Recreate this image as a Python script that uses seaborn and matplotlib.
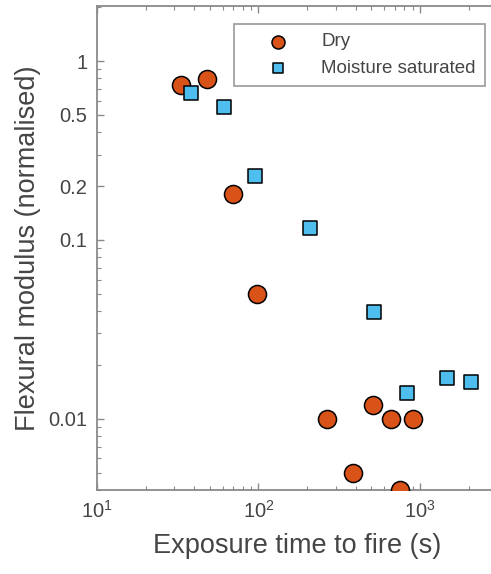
import matplotlib
matplotlib.use("Agg")
import matplotlib.pyplot as plt
import seaborn as sns
import pandas as pd
import numpy as np
from matplotlib.ticker import LogLocator, FixedLocator, FixedFormatter, NullFormatter

dry_time = [33, 48, 70, 98, 264, 386, 514, 661, 909, 751]
dry_mod = [0.73, 0.79, 0.18, 0.050, 0.010, 0.005, 0.012, 0.010, 0.010, 0.004]
wet_time = [38, 61, 95, 208, 519, 828, 1462, 2061]
wet_mod = [0.66, 0.556, 0.228, 0.117, 0.0396, 0.014, 0.017, 0.016]

series_names = ["Dry", "Moisture saturated"]
ytick_vals = [0.01, 0.1, 0.2, 0.5, 1]
ytick_labels = ["0.01", "0.1", "0.2", "0.5", "1"]

sns.set_theme(style="white")
plt.rcParams['font.family'] = ['Liberation Sans', 'DejaVu Sans']
plt.rcParams['mathtext.fontset'] = 'custom'
plt.rcParams['mathtext.rm'] = 'Liberation Sans'

dry = pd.DataFrame({"t": dry_time, "m": dry_mod})
wet = pd.DataFrame({"t": wet_time, "m": wet_mod})

fig = plt.figure(figsize=(4.91, 5.74), dpi=100)
ax = fig.add_axes([97/491, 1 - 490/574, 400/491, 484/574])

sns.scatterplot(data=dry, x="t", y="m", ax=ax, marker="o", s=13**2,
                color="#D95319", edgecolor="black", linewidth=1.1,
                label=series_names[0], zorder=3)
sns.scatterplot(data=wet, x="t", y="m", ax=ax, marker="s", s=10.5**2,
                color="#4DBEEE", edgecolor="black", linewidth=1.1,
                label=series_names[1], zorder=3)

ax.set_xscale("log")
ax.set_yscale("log")
ax.set_xlim(10, 3000)
ax.set_ylim(0.004, 2.03)

axcol = "#8a8a8a"
txtcol = "#454545"
for side in ["left", "bottom", "top"]:
    ax.spines[side].set_color(axcol)
    ax.spines[side].set_linewidth(1.3)
ax.spines["right"].set_visible(False)

ax.xaxis.set_major_locator(FixedLocator([10, 100, 1000]))
ax.xaxis.set_minor_locator(LogLocator(base=10, subs=np.arange(2, 10)))
ax.xaxis.set_minor_formatter(NullFormatter())
ax.set_xticklabels([r"$10^1$", r"$10^2$", r"$10^3$"])
ax.yaxis.set_major_locator(FixedLocator(ytick_vals))
ax.yaxis.set_major_formatter(FixedFormatter(ytick_labels))
ax.yaxis.set_minor_locator(LogLocator(base=10, subs=np.arange(2, 10)))
ax.yaxis.set_minor_formatter(NullFormatter())

ax.tick_params(which="both", direction="in", color=axcol, top=True, bottom=True, left=True, right=False)
ax.tick_params(which="major", length=5, width=1.0, labelsize=14.5, labelcolor=txtcol, pad=7)
ax.tick_params(which="minor", length=3, width=0.8)

ax.set_xlabel("Exposure time to fire (s)", fontsize=19.5, color=txtcol, labelpad=8)
ax.set_ylabel("Flexural modulus (normalised)", fontsize=19.5, color=txtcol, labelpad=5)

leg = ax.legend(loc="upper right", bbox_to_anchor=((485 - 97) / 400, (490 - 24) / 484),
                fontsize=13.5, frameon=True, fancybox=False, edgecolor=axcol,
                handlelength=3.7, handletextpad=0.45, labelspacing=0.5,
                borderpad=0.5, markerscale=0.72, borderaxespad=0)
leg.get_frame().set_linewidth(1.3)
for t in leg.get_texts():
    t.set_color(txtcol)

fig.savefig("out.png", dpi=100)
